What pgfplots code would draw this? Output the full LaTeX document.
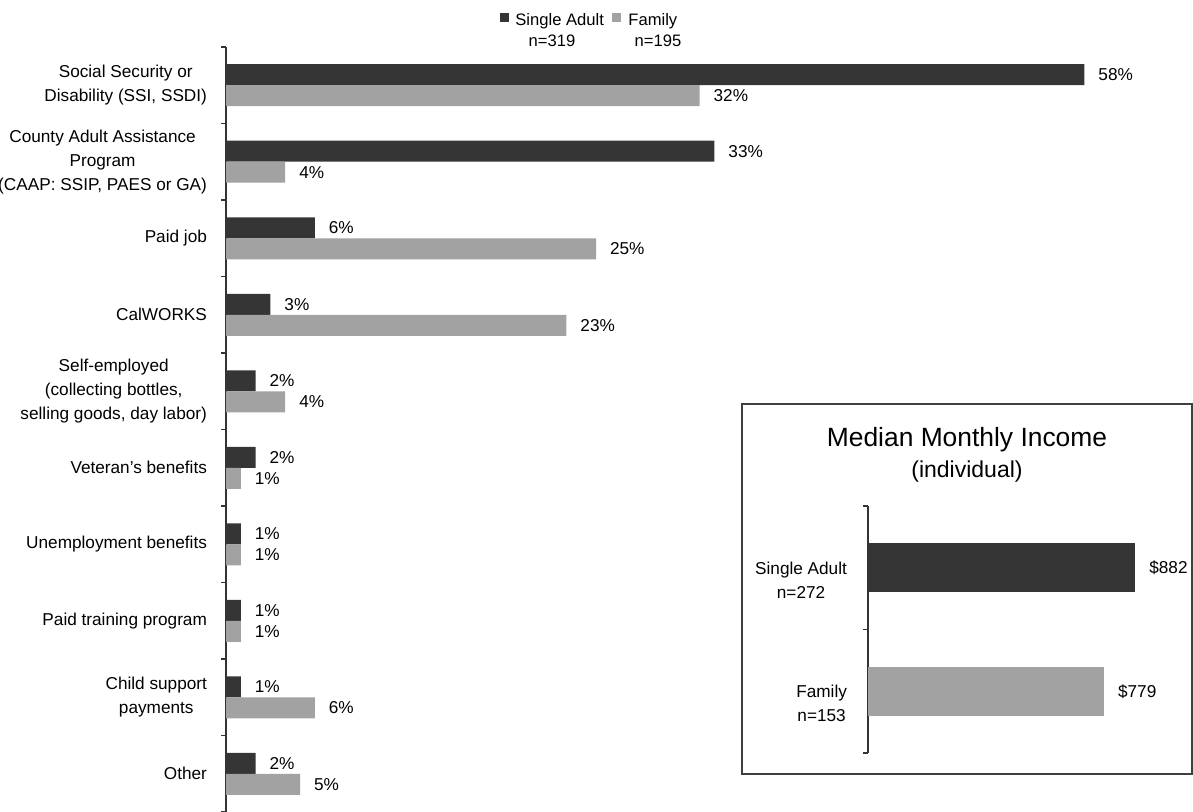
\documentclass[border=0pt]{standalone}
\usepackage{fontspec}
\setmainfont{Liberation Sans}
\usepackage{pgfplots}
\pgfplotsset{compat=1.18}

\definecolor{singlecol}{HTML}{353535}
\definecolor{familycol}{HTML}{A2A2A2}
\newcommand\lbl{\fontsize{8.6}{12}\selectfont}
\newcommand\leg{\fontsize{8.3}{10}\selectfont}

\begin{document}
\begin{tikzpicture}
\useasboundingbox (0,0) rectangle (596.5pt,-405.5pt);

% income sources, share of respondents (%)
\begin{axis}[
  at={(113pt,-406pt)}, anchor=south west,
  scale only axis, width=444pt, height=382.5pt,
  xmin=0, xmax=60, ymin=-0.5, ymax=9.5,
  xbar, bar width=10.5pt,
  axis y line*=left, axis x line=none,
  axis line style={black!80, line width=0.6pt},
  ytick={0,...,9},
  yticklabels={Other,{Child support\\payments},Paid training program,Unemployment benefits,Veteran's benefits,{Self-employed\\(collecting bottles,\\selling goods, day labor)},CalWORKS,Paid job,{County Adult Assistance\\Program\\(CAAP: SSIP, PAES or GA)},{Social Security or\\Disability (SSI, SSDI)}},
  yticklabel style={align=center, font=\lbl, xshift=-6pt},
  major tick length=0pt,
  minor ytick={-0.5,0.5,...,9.5},
  minor tick length=2.5pt, tick align=outside,
  minor tick style={black!80, line width=0.6pt},
  /pgf/number format/assume math mode=true,
  nodes near coords={\pgfmathprintnumber{\pgfplotspointmeta}\%},
  nodes near coords style={anchor=west, font=\lbl, xshift=3.5pt, text=black},
  clip=false,
]
\addplot[fill=singlecol, draw=none, bar shift=5.25pt] coordinates {
  (58,9) (33,8) (6,7) (3,6) (2,5) (2,4) (1,3) (1,2) (1,1) (2,0)};
\addplot[fill=familycol, draw=none, bar shift=-5.25pt] coordinates {
  (32,9) (4,8) (25,7) (23,6) (4,5) (1,4) (1,3) (1,2) (6,1) (5,0)};
\end{axis}

% legend
\fill[singlecol] (250pt,-6.5pt) rectangle (254.5pt,-11pt);
\node[anchor=base west, inner sep=0, font=\leg] at (257.5pt,-12.5pt) {Single Adult};
\node[anchor=base, inner sep=0, font=\leg] at (276pt,-23pt) {n=319};
\fill[familycol] (306pt,-6.5pt) rectangle (310.5pt,-11pt);
\node[anchor=base west, inner sep=0, font=\leg] at (314pt,-12.5pt) {Family};
\node[anchor=base, inner sep=0, font=\leg] at (329pt,-23pt) {n=195};

% inset: median monthly income
\draw[black!75, line width=0.75pt] (371pt,-202pt) rectangle (596pt,-387pt);
\node[font=\fontsize{13.2}{15}\selectfont] at (483.5pt,-220pt) {Median Monthly Income};
\node[font=\fontsize{11.5}{13}\selectfont] at (483.5pt,-236pt) {(individual)};

\begin{axis}[
  at={(434pt,-376.5pt)}, anchor=south west,
  scale only axis, width=151.5pt, height=123.5pt,
  xmin=0, xmax=1000, ymin=-0.5, ymax=1.5,
  xbar, bar width=24.5pt,
  axis y line*=left, axis x line=none,
  axis line style={black!80, line width=0.6pt},
  ytick={0,1},
  yticklabels={{Family\\n=153},{Single Adult\\n=272}},
  yticklabel style={align=center, font=\lbl, xshift=-7pt, yshift=-6pt},
  major tick length=0pt,
  minor ytick={-0.5,0.5,1.5},
  minor tick length=2.5pt, tick align=outside,
  minor tick style={black!80, line width=0.6pt},
  /pgf/number format/assume math mode=true,
  nodes near coords={\$\pgfmathprintnumber{\pgfplotspointmeta}},
  nodes near coords style={anchor=west, font=\lbl, xshift=3.5pt, text=black},
  clip=false,
]
\addplot[fill=singlecol, draw=none, bar shift=0pt] coordinates {(882,1)};
\addplot[fill=familycol, draw=none, bar shift=0pt] coordinates {(779,0)};
\end{axis}
\end{tikzpicture}
\end{document}
